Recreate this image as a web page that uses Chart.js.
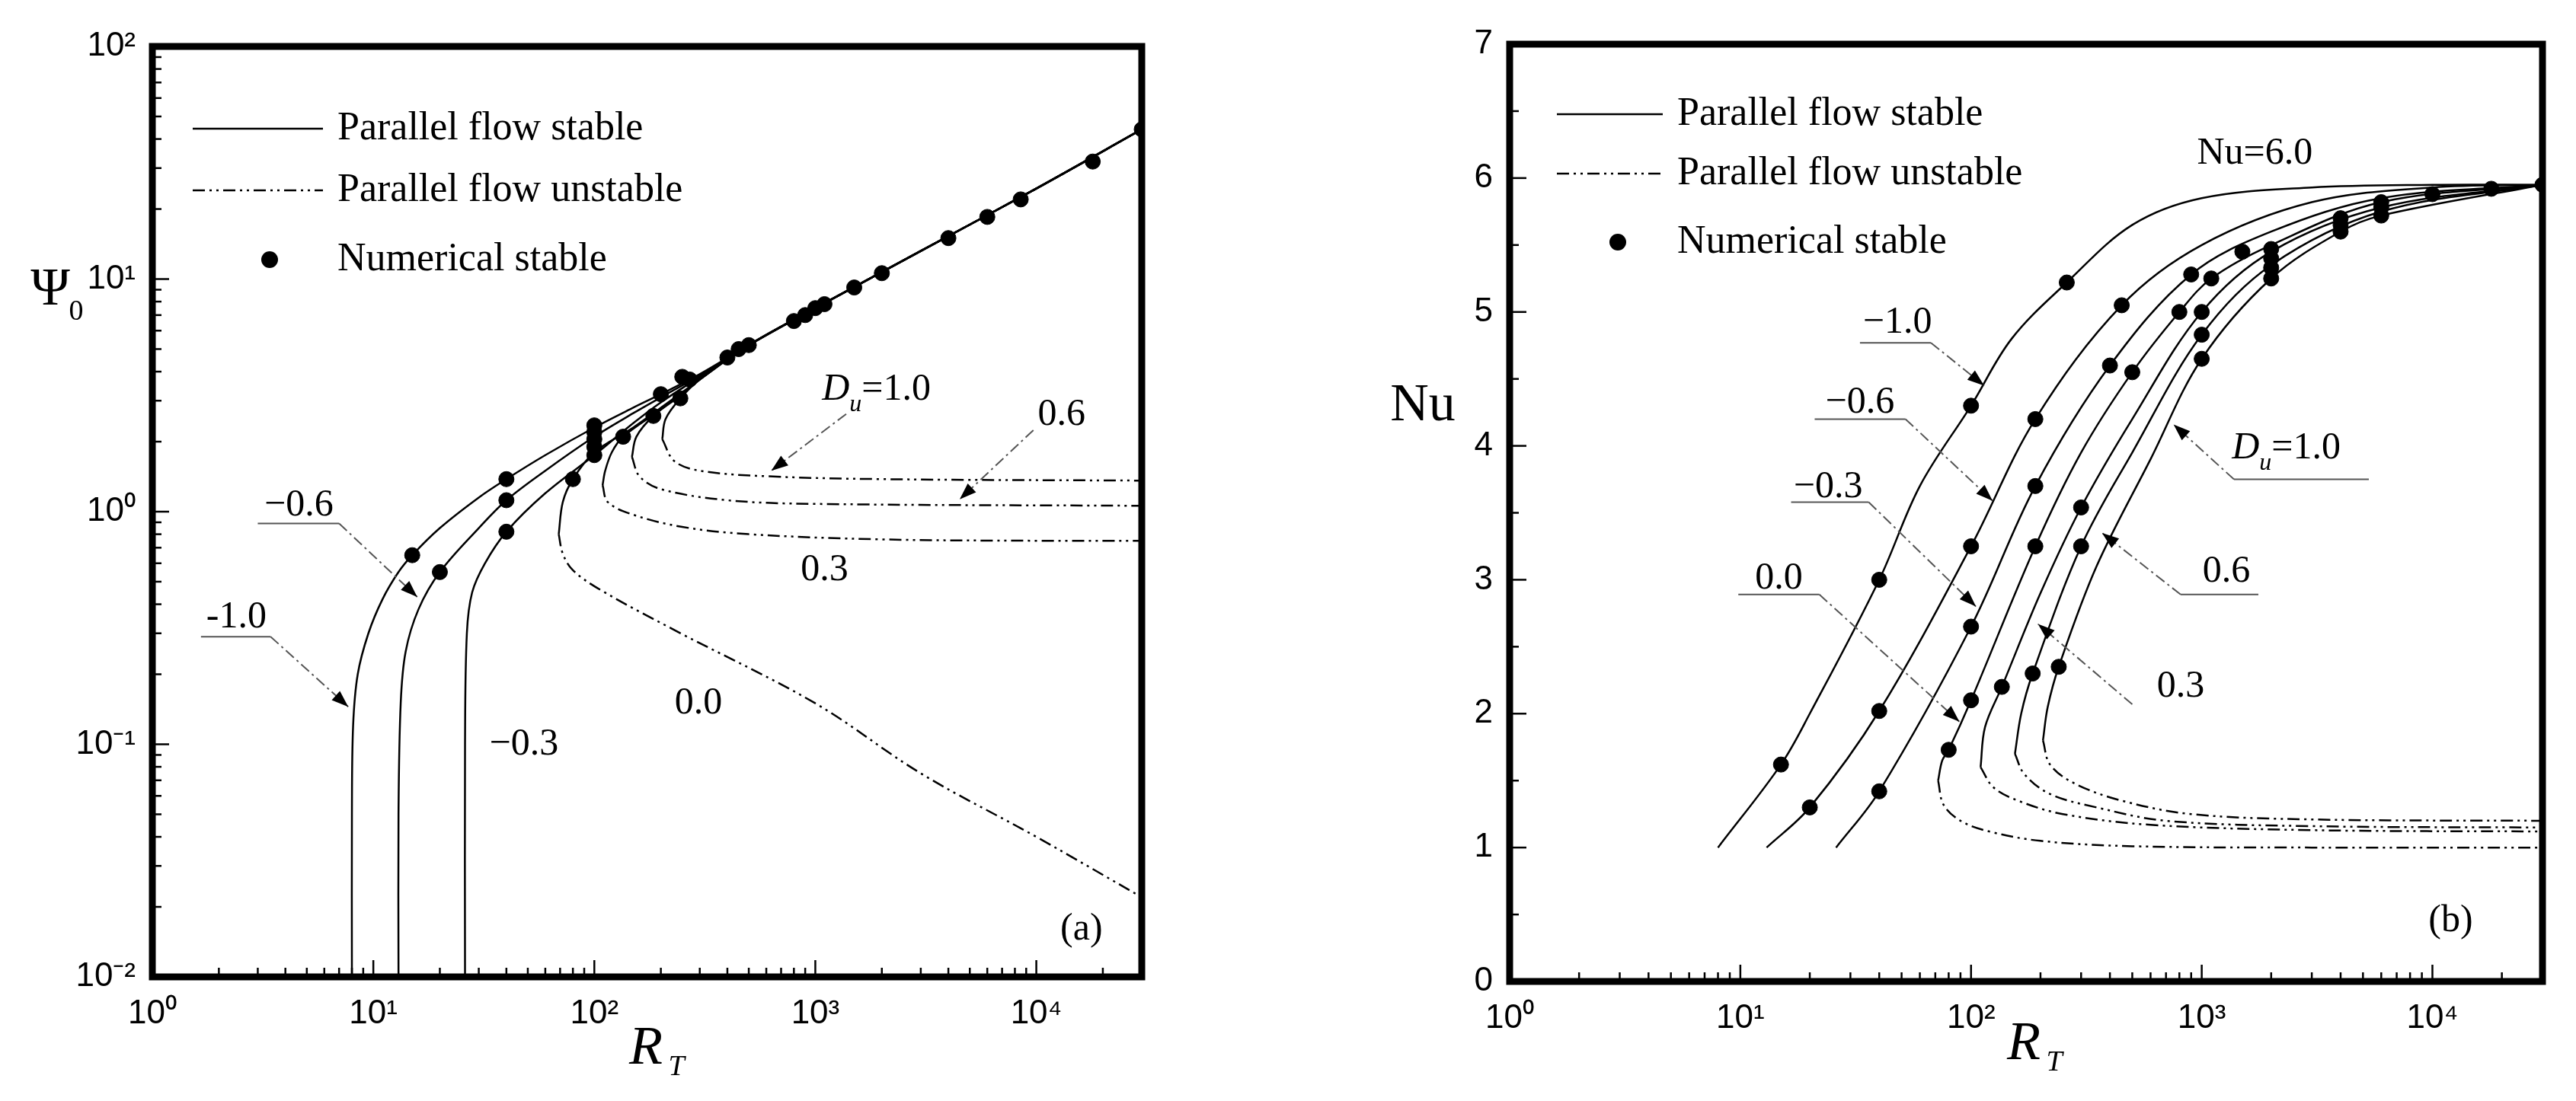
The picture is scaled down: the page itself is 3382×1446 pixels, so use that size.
<!DOCTYPE html>
<html>
<head>
<meta charset="utf-8">
<script src="https://cdn.jsdelivr.net/npm/chart.js@4.4.1/dist/chart.umd.min.js"></script>
<style>
  body { margin: 0; background: #fff; }
  #wrap { position: relative; width: 3382px; height: 1446px; }
  .box { position: absolute; top: 0; height: 1446px; }
</style>
</head>
<body>
<div id="wrap">
  <div class="box" style="left:0;width:1690px"><canvas id="left"></canvas></div>
  <div class="box" style="left:1690px;width:1692px"><canvas id="right"></canvas></div>
</div>
<script>
// ---------- panel (a): Psi0 vs R_T ----------
const psiCommonX = [500, 1000, 3000, 10000, 30000];
const psiCommonY = [5.2, 7.5, 13.2, 24.5, 44];

const psiStableM10X = [8, 8, 8.1, 8.5, 9.5, 11, 13, 15, 20, 30, 40, 60, 100, 150, 200, 300];
const psiStableM10Y = [0.01, 0.05, 0.12, 0.2, 0.3, 0.42, 0.55, 0.65, 0.85, 1.15, 1.38, 1.75, 2.3, 2.8, 3.2, 3.9];
const psiStableM06X = [13, 13, 13.3, 14, 16, 20, 30, 40, 60, 100, 150, 200, 300];
const psiStableM06Y = [0.01, 0.05, 0.15, 0.25, 0.38, 0.55, 0.85, 1.12, 1.5, 2.1, 2.65, 3.1, 3.85];
const psiStableM03X = [26, 26, 26.5, 28, 32, 40, 60, 100, 150, 200, 300];
const psiStableM03Y = [0.01, 0.1, 0.3, 0.45, 0.6, 0.82, 1.2, 1.75, 2.4, 2.95, 3.8];
const psiStable00X = [69, 72, 80, 100, 150, 200, 300];
const psiStable00Y = [0.8, 1.1, 1.38, 1.8, 2.3, 2.8, 3.7];
const psiStable03X = [109, 112, 120, 135, 200, 300];
const psiStable03Y = [1.3, 1.5, 1.8, 2.1, 2.75, 3.7];
const psiStable06X = [148, 155, 185, 250, 300];
const psiStable06Y = [1.72, 2.1, 2.58, 3.2, 3.75];
const psiStable10X = [203, 210, 245, 300];
const psiStable10Y = [2.05, 2.5, 3.07, 3.7];

const psiUnst00X = [69, 72, 80, 107, 230, 1000, 3000, 10000, 30000];
const psiUnst00Y = [0.8, 0.66, 0.56, 0.46, 0.31, 0.15, 0.075, 0.04, 0.022];
const psiUnst03X = [109, 115, 150, 250, 500, 2000, 10000, 30000];
const psiUnst03Y = [1.3, 1.1, 0.97, 0.86, 0.8, 0.76, 0.75, 0.75];
const psiUnst06X = [148, 160, 200, 400, 1000, 30000];
const psiUnst06Y = [1.72, 1.42, 1.25, 1.12, 1.08, 1.06];
const psiUnst10X = [203, 230, 300, 600, 2000, 30000];
const psiUnst10Y = [2.05, 1.65, 1.5, 1.42, 1.38, 1.36];

const psiDotX = [15, 20, 40, 40, 40, 80, 100, 100, 100, 100, 100, 135, 185, 200, 245, 250, 270, 400, 450, 500, 800, 900, 1000, 1100, 1500, 2000, 4000, 6000, 8500, 18000, 30000];
const psiDotY = [0.65, 0.55, 1.38, 1.12, 0.82, 1.38, 1.75, 1.9, 2.05, 2.2, 2.35, 2.1, 2.58, 3.2, 3.07, 3.8, 3.7, 4.6, 5.0, 5.2, 6.6, 7.0, 7.5, 7.8, 9.2, 10.6, 15, 18.5, 22, 32, 44];

// ---------- panel (b): Nu vs R_T ----------
const nuStableM10X = [8, 15, 20, 40, 60, 100, 150, 260, 500, 1000, 3000, 10000, 30000];
const nuStableM10Y = [1.0, 1.62, 2.0, 3.0, 3.7, 4.3, 4.8, 5.22, 5.65, 5.85, 5.93, 5.95, 5.95];
const nuStableM06X = [13, 20, 40, 100, 190, 450, 1000, 3000, 10000, 30000];
const nuStableM06Y = [1.0, 1.3, 2.02, 3.25, 4.2, 5.05, 5.5, 5.82, 5.93, 5.95];
const nuStableM03X = [26, 40, 100, 190, 400, 900, 2000, 6000, 30000];
const nuStableM03Y = [1.0, 1.42, 2.65, 3.7, 4.6, 5.28, 5.6, 5.85, 5.95];
const nuStable00X = [72, 75, 80, 100, 190, 300, 500, 800, 1100, 2000, 6000, 30000];
const nuStable00Y = [1.5, 1.65, 1.73, 2.1, 3.25, 3.95, 4.55, 5.0, 5.25, 5.5, 5.82, 5.95];
const nuStable03X = [110, 115, 136, 200, 300, 500, 1000, 2000, 6000, 30000];
const nuStable03Y = [1.6, 1.9, 2.2, 2.9, 3.54, 4.2, 5.0, 5.45, 5.78, 5.95];
const nuStable06X = [155, 165, 185, 300, 500, 1000, 2000, 6000, 30000];
const nuStable06Y = [1.7, 2.0, 2.3, 3.25, 3.95, 4.83, 5.35, 5.75, 5.95];
const nuStable10X = [205, 215, 240, 350, 600, 1000, 2000, 4000, 6000, 30000];
const nuStable10Y = [1.8, 2.05, 2.35, 3.1, 3.9, 4.65, 5.25, 5.6, 5.72, 5.95];

const nuUnst00X = [72, 76, 90, 120, 200, 500, 3000, 30000];
const nuUnst00Y = [1.5, 1.32, 1.2, 1.12, 1.05, 1.01, 1.0, 1.0];
const nuUnst03X = [110, 125, 160, 250, 600, 3000, 30000];
const nuUnst03Y = [1.6, 1.45, 1.35, 1.25, 1.17, 1.13, 1.12];
const nuUnst06X = [155, 170, 220, 350, 700, 3000, 30000];
const nuUnst06Y = [1.7, 1.55, 1.4, 1.3, 1.2, 1.16, 1.15];
const nuUnst10X = [205, 220, 280, 450, 900, 3000, 30000];
const nuUnst10Y = [1.8, 1.62, 1.48, 1.35, 1.25, 1.21, 1.2];

const nuDotX = [15, 20, 40, 40, 40, 80, 100, 100, 100, 100, 136, 190, 190, 190, 185, 240, 260, 300, 300, 400, 450, 500, 800, 900, 1000, 1000, 1000, 1100, 1500, 2000, 2000, 2000, 2000, 4000, 4000, 4000, 6000, 6000, 6000, 10000, 18000, 30000];
const nuDotY = [1.62, 1.3, 3.0, 2.02, 1.42, 1.73, 4.3, 3.25, 2.65, 2.1, 2.2, 4.2, 3.7, 3.25, 2.3, 2.35, 5.22, 3.54, 3.25, 4.6, 5.05, 4.55, 5.0, 5.28, 5.0, 4.83, 4.65, 5.25, 5.45, 5.47, 5.4, 5.33, 5.25, 5.6, 5.65, 5.7, 5.72, 5.78, 5.82, 5.88, 5.92, 5.95];

// tick values
const xTickDecades = [1, 10, 100, 1000, 10000];
const psiTickDecades = [0.01, 0.1, 1, 10, 100];
const nuTickMajor = [0, 1, 2, 3, 4, 5, 6, 7];

// annotation labels: [text, x, y] ; leaders: [x1,y1,x2,y2,underlineX0]
const psiLabels = [['-1.0', 2.4, 0.35], ['\u22120.6', 4.6, 1.06], ['\u22120.3', 48, 0.10], ['0.0', 296, 0.15], ['0.3', 1100, 0.56], ['0.6', 13000, 2.6], ['(a)', 16000, 0.016]];
const psiLeaders = [[3.43, 0.29, 7.7, 0.145, 1.66], [7.0, 0.89, 15.8, 0.43, 3.0], [9700, 2.24, 4500, 1.13, null], [1380, 2.63, 632, 1.5, null]];
const nuLabels = [['\u22121.0', 48, 4.92], ['\u22120.6', 33, 4.32], ['\u22120.3', 24, 3.69], ['0.0', 14.7, 3.01], ['0.3', 810, 2.2], ['0.6', 1280, 3.06], ['Nu=6.0', 1700, 6.18], ['(b)', 12000, 0.45]];
const nuLeaders = [[67, 4.77, 114, 4.45, 33], [52, 4.2, 124, 3.59, 21], [36, 3.58, 105, 2.8, 16.6], [22, 2.89, 89, 1.94, 9.8], [500, 2.07, 195, 2.67, null], [810, 2.89, 370, 3.35, 1760], [1380, 3.75, 755, 4.16, 5300]];

const SERIF = '"Liberation Serif", "DejaVu Serif", serif';
const SANS = '"Liberation Sans", Arial, sans-serif';
const UNSTABLE_DASH = [16, 6, 3, 6, 3, 6];

function pts(xs, ys) { return xs.map((x, i) => ({ x: x, y: ys[i] })); }

function lineSet(xs, ys, dashed) {
  return {
    data: pts(xs, ys), showLine: true, pointRadius: 0, borderColor: '#000',
    borderWidth: 2.5, borderDash: dashed ? UNSTABLE_DASH : [], tension: 0.35, fill: false
  };
}

function decadeTicks(lo, hi) {
  const out = [];
  for (let d = lo; d < hi * 1.0001; d *= 10) {
    for (let m = 1; m <= 9; m++) {
      const v = +(d * m).toPrecision(3);
      if (v <= hi * 1.0001) out.push({ value: v });
    }
  }
  return out;
}

const SUP = { '0': '\u2070', '1': '\u00b9', '2': '\u00b2', '3': '\u00b3', '4': '\u2074', '-': '\u207b' };
function powLabel(v, decades) {
  if (!decades.some(d => Math.abs(v / d - 1) < 1e-6)) return '';
  const e = String(Math.round(Math.log10(v)));
  return '10' + e.split('').map(c => SUP[c]).join('');
}

// frame, inside ticks, legend, labels
function decorPlugin(cfg) {
  return {
    id: 'decor',
    afterDraw(chart) {
      const ctx = chart.ctx, a = chart.chartArea;
      const sx = chart.scales.x, sy = chart.scales.y;
      ctx.save();
      // inside ticks
      ctx.strokeStyle = '#000'; ctx.lineWidth = 2.5;
      sx.ticks.forEach(t => {
        const px = sx.getPixelForValue(t.value);
        const len = t.label ? 22 : 12;
        ctx.beginPath(); ctx.moveTo(px, a.bottom); ctx.lineTo(px, a.bottom - len); ctx.stroke();
      });
      sy.ticks.forEach(t => {
        const py = sy.getPixelForValue(t.value);
        const len = t.label ? 22 : 12;
        ctx.beginPath(); ctx.moveTo(a.left, py); ctx.lineTo(a.left + len, py); ctx.stroke();
      });
      // frame
      ctx.lineWidth = 9;
      ctx.strokeRect(a.left, a.top, a.right - a.left, a.bottom - a.top);
      // axis titles
      ctx.fillStyle = '#000';
      ctx.textAlign = 'center'; ctx.textBaseline = 'middle';
      ctx.font = 'italic 72px ' + SERIF;
      ctx.fillText('R', cfg.xTitle[0] - 12, cfg.xTitle[1]);
      ctx.font = 'italic 38px ' + SERIF;
      ctx.fillText('T', cfg.xTitle[0] + 28, cfg.xTitle[1] + 24);
      ctx.font = '70px ' + SERIF;
      ctx.fillText(cfg.yTitle, cfg.yPos[0], cfg.yPos[1]);
      if (cfg.ySub) {
        ctx.font = '38px ' + SERIF;
        ctx.fillText(cfg.ySub, cfg.yPos[0] + 34, cfg.yPos[1] + 28);
      }
      // legend
      const L = cfg.legend;
      ctx.font = '52px ' + SERIF; ctx.textAlign = 'left';
      ctx.lineWidth = 2.5;
      ctx.beginPath(); ctx.moveTo(L.x0, L.rows[0]); ctx.lineTo(L.x1, L.rows[0]); ctx.stroke();
      ctx.setLineDash(UNSTABLE_DASH);
      ctx.beginPath(); ctx.moveTo(L.x0, L.rows[1]); ctx.lineTo(L.x1, L.rows[1]); ctx.stroke();
      ctx.setLineDash([]);
      ctx.beginPath(); ctx.arc(L.dot, L.rows[2], 11, 0, Math.PI * 2); ctx.fill();
      ctx.fillText('Parallel flow stable', L.tx, L.rows[0]);
      ctx.fillText('Parallel flow unstable', L.tx, L.rows[1]);
      ctx.fillText('Numerical stable', L.tx, L.rows[2]);
      // labels
      ctx.textAlign = 'center';
      cfg.labels.forEach(([txt, x, y]) => {
        ctx.font = '50px ' + SERIF;
        ctx.fillText(txt, sx.getPixelForValue(x), sy.getPixelForValue(y));
      });
      // D_u = 1.0
      const dx = sx.getPixelForValue(cfg.du[0]), dy = sy.getPixelForValue(cfg.du[1]);
      ctx.textAlign = 'left';
      ctx.font = 'italic 50px ' + SERIF; ctx.fillText('D', dx - 90, dy);
      ctx.font = 'italic 32px ' + SERIF; ctx.fillText('u', dx - 54, dy + 20);
      ctx.font = '50px ' + SERIF; ctx.fillText('=1.0', dx - 38, dy);
      // leaders
      cfg.leaders.forEach(([x1, y1, x2, y2, u]) => {
        const p1 = [sx.getPixelForValue(x1), sy.getPixelForValue(y1)];
        const p2 = [sx.getPixelForValue(x2), sy.getPixelForValue(y2)];
        ctx.strokeStyle = '#555'; ctx.lineWidth = 2;
        if (u !== null) {
          ctx.beginPath(); ctx.moveTo(sx.getPixelForValue(u), p1[1]); ctx.lineTo(p1[0], p1[1]); ctx.stroke();
        }
        ctx.setLineDash([14, 5, 3, 5]);
        ctx.beginPath(); ctx.moveTo(p1[0], p1[1]); ctx.lineTo(p2[0], p2[1]); ctx.stroke();
        ctx.setLineDash([]);
        const ang = Math.atan2(p2[1] - p1[1], p2[0] - p1[0]);
        ctx.fillStyle = '#000';
        ctx.beginPath();
        ctx.moveTo(p2[0], p2[1]);
        ctx.lineTo(p2[0] - 22 * Math.cos(ang) + 8 * Math.sin(ang), p2[1] - 22 * Math.sin(ang) - 8 * Math.cos(ang));
        ctx.lineTo(p2[0] - 22 * Math.cos(ang) - 8 * Math.sin(ang), p2[1] - 22 * Math.sin(ang) + 8 * Math.cos(ang));
        ctx.closePath(); ctx.fill();
      });
      ctx.restore();
    }
  };
}

function dotSet(xs, ys) {
  return { data: pts(xs, ys), showLine: false, pointRadius: 10, pointBackgroundColor: '#000', pointBorderColor: '#000' };
}

function makeChart(id, datasets, yScale, pad, yWidth, xHeight, cfg) {
  return new Chart(document.getElementById(id), {
    type: 'scatter',
    data: { datasets: datasets },
    options: {
      responsive: true, maintainAspectRatio: false, animation: false,
      layout: { padding: pad },
      plugins: { legend: { display: false }, tooltip: { enabled: false } },
      scales: {
        x: {
          type: 'logarithmic', min: 1, max: 30000,
          border: { display: false }, grid: { display: false },
          afterBuildTicks: s => { s.ticks = decadeTicks(1, 30000); },
          afterFit: s => { s.height = xHeight; },
          ticks: {
            autoSkip: false, maxRotation: 0, padding: 14, color: '#000',
            font: { family: SANS, size: 44 },
            callback: v => powLabel(v, xTickDecades)
          }
        },
        y: Object.assign(yScale, {
          border: { display: false }, grid: { display: false },
          afterFit: s => { s.width = yWidth; }
        })
      }
    },
    plugins: [decorPlugin(cfg)]
  });
}

Chart.defaults.font.family = SANS;

makeChart('left', [
  lineSet(psiStableM10X.concat(psiCommonX), psiStableM10Y.concat(psiCommonY), false),
  lineSet(psiStableM06X.concat(psiCommonX), psiStableM06Y.concat(psiCommonY), false),
  lineSet(psiStableM03X.concat(psiCommonX), psiStableM03Y.concat(psiCommonY), false),
  lineSet(psiStable00X.concat(psiCommonX), psiStable00Y.concat(psiCommonY), false),
  lineSet(psiStable03X.concat(psiCommonX), psiStable03Y.concat(psiCommonY), false),
  lineSet(psiStable06X.concat(psiCommonX), psiStable06Y.concat(psiCommonY), false),
  lineSet(psiStable10X.concat(psiCommonX), psiStable10Y.concat(psiCommonY), false),
  lineSet(psiUnst00X, psiUnst00Y, true),
  lineSet(psiUnst03X, psiUnst03Y, true),
  lineSet(psiUnst06X, psiUnst06Y, true),
  lineSet(psiUnst10X, psiUnst10Y, true),
  dotSet(psiDotX, psiDotY)
], {
  type: 'logarithmic', min: 0.01, max: 100,
  afterBuildTicks: s => { s.ticks = decadeTicks(0.01, 100); },
  ticks: {
    autoSkip: false, padding: 14, color: '#000', font: { family: SANS, size: 44 },
    callback: v => powLabel(v, psiTickDecades)
  }
}, { top: 61, right: 191, left: 0, bottom: 0 }, 200, 163, {
  xTitle: [860, 1378], yTitle: '\u03a8', ySub: '0', yPos: [66, 382],
  legend: { x0: 253, x1: 424, tx: 443, dot: 354, rows: [169, 250, 341] },
  labels: psiLabels, leaders: psiLeaders, du: [2190, 3.34]
});

makeChart('right', [
  lineSet(nuStableM10X, nuStableM10Y, false),
  lineSet(nuStableM06X, nuStableM06Y, false),
  lineSet(nuStableM03X, nuStableM03Y, false),
  lineSet(nuStable00X, nuStable00Y, false),
  lineSet(nuStable03X, nuStable03Y, false),
  lineSet(nuStable06X, nuStable06Y, false),
  lineSet(nuStable10X, nuStable10Y, false),
  lineSet(nuUnst00X, nuUnst00Y, true),
  lineSet(nuUnst03X, nuUnst03Y, true),
  lineSet(nuUnst06X, nuUnst06Y, true),
  lineSet(nuUnst10X, nuUnst10Y, true),
  dotSet(nuDotX, nuDotY)
], {
  type: 'linear', min: 0, max: 7,
  afterBuildTicks: s => {
    const t = [];
    for (let v = 0; v <= 14; v++) t.push({ value: v / 2 });
    s.ticks = t;
  },
  ticks: {
    autoSkip: false, padding: 14, color: '#000', font: { family: SANS, size: 44 },
    callback: v => nuTickMajor.includes(v) ? String(v) : ''
  }
}, { top: 58, right: 44, left: 0, bottom: 0 }, 292, 157, {
  xTitle: [979, 1372], yTitle: 'Nu', ySub: null, yPos: [178, 534],
  legend: { x0: 354, x1: 493, tx: 512, dot: 434, rows: [150, 228, 318] },
  labels: nuLabels, leaders: nuLeaders, du: [2680, 3.98]
});
</script>
</body>
</html>
